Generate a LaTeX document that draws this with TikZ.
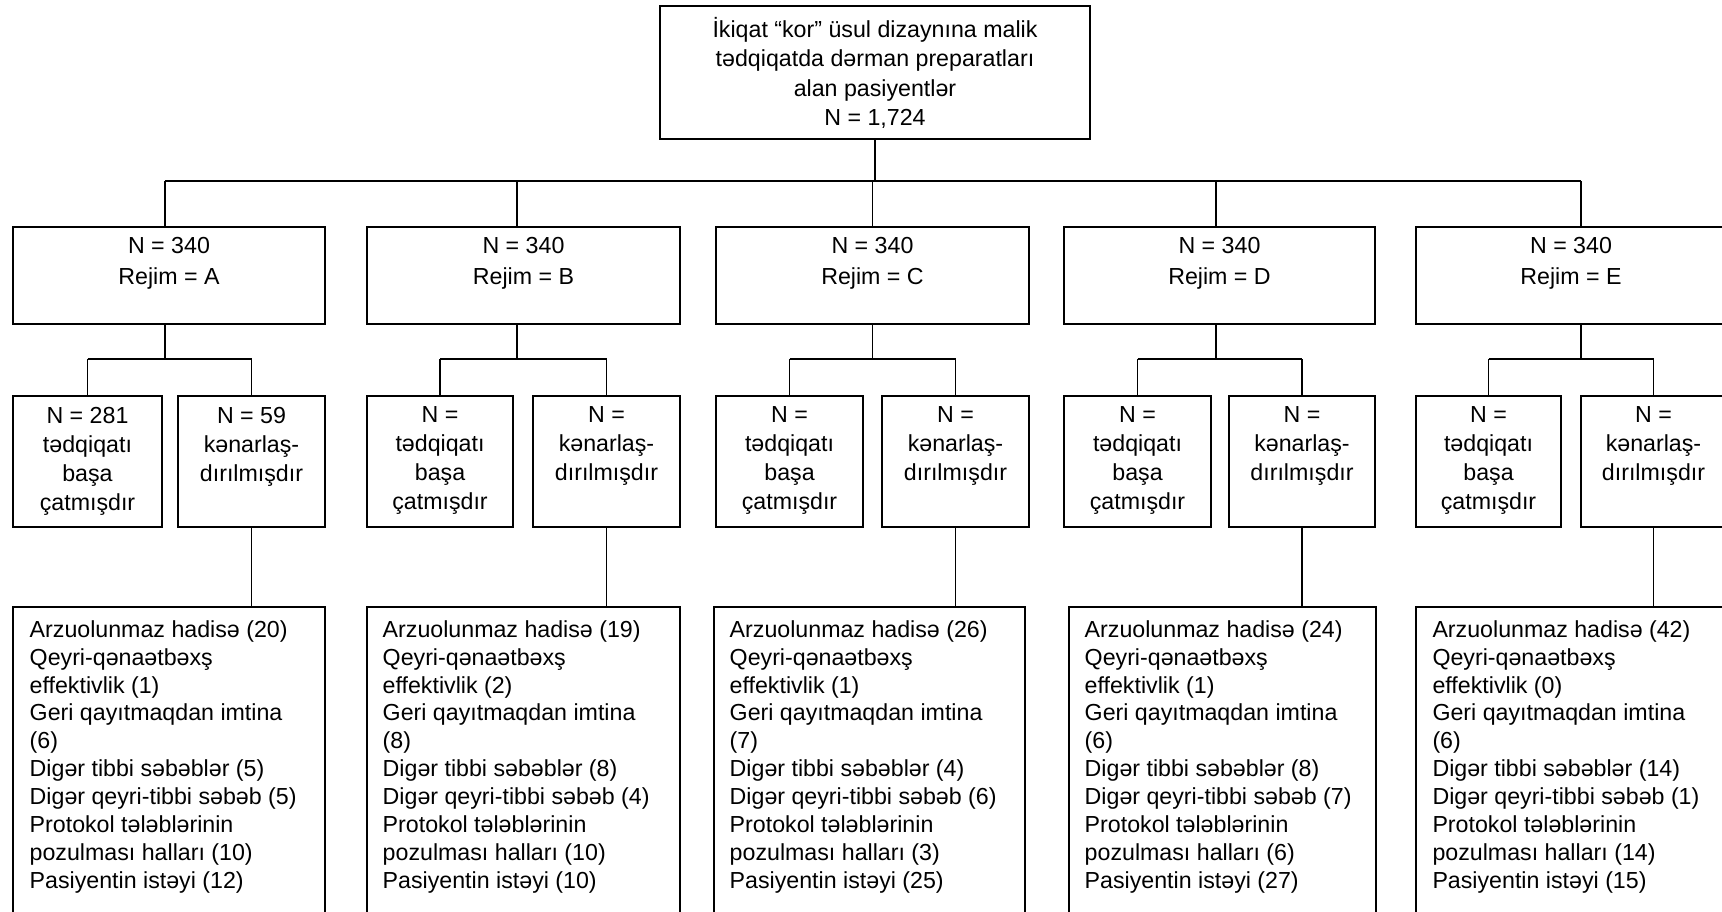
\documentclass[tikz,border=0pt]{standalone}
\usepackage{fontspec}
\setmainfont{Liberation Sans}
\usetikzlibrary{fit}
\begin{document}
\begin{tikzpicture}[x=0.5pt,y=-0.5pt,
  box/.style={draw, line width=0.9pt, inner sep=0pt, fit={#1}},
  conn/.style={line width=0.9pt},
  ttxt/.style={inner sep=0pt, align=center, anchor=north, font=\fontsize{11.6}{14.65}\selectfont},
  rtxt/.style={inner sep=0pt, align=center, anchor=north, font=\fontsize{11.6}{15.4}\selectfont},
  stxt/.style={inner sep=0pt, align=center, anchor=north, font=\fontsize{11.6}{14.5}\selectfont},
  ltxt/.style={inner sep=0pt, align=left, anchor=north west, font=\fontsize{11.6}{13.97}\selectfont}]
\clip (0,0) rectangle (1722,911);
\fill[white] (0,0) rectangle (1722,911);
% top box
\node[box={(660,6)(1090,139)}] (T) {};
\node[ttxt] (Tt) at ([yshift=-6pt]T.north) {İkiqat “kor” üsul dizaynına malik\\tədqiqatda dərman preparatları\\alan pasiyentlər\\N = 1,724};
% regimen boxes
\node[box={(13,227)(325,324)}] (A) {};
\node[box={(367,227)(680,324)}] (B) {};
\node[box={(716,227)(1029,324)}] (C) {};
\node[box={(1064,227)(1375,324)}] (D) {};
\node[box={(1416,227)(1726,324)}] (E) {};
\foreach \n in {A,B,C,D,E}
  \node[rtxt] (\n t) at ([yshift=-5.25pt]\n.north) {N = 340\\Rejim = \n};
% sub boxes
\node[box={(13,396)(162,527)}] (A1) {};
\node[box={(178,396)(325,527)}] (A2) {};
\node[box={(367,396)(513,527)}] (B1) {};
\node[box={(533,396)(680,527)}] (B2) {};
\node[box={(716,396)(863,527)}] (C1) {};
\node[box={(882,396)(1029,527)}] (C2) {};
\node[box={(1064,396)(1211,527)}] (D1) {};
\node[box={(1229,396)(1375,527)}] (D2) {};
\node[box={(1416,396)(1561,527)}] (E1) {};
\node[box={(1581,396)(1726,527)}] (E2) {};
\node[stxt] (A1t) at ([yshift=-5.75pt]A1.north) {N = 281\\tədqiqatı\\başa\\çatmışdır};
\node[stxt] (A2t) at ([yshift=-5.75pt]A2.north) {N = 59\\kənarlaş-\\dırılmışdır};
\foreach \n in {B,C,D,E}{
  \node[stxt] (\n 1t) at ([yshift=-5.75pt]\n 1.north) {N =\\tədqiqatı\\başa\\çatmışdır};
  \node[stxt] (\n 2t) at ([yshift=-5.75pt]\n 2.north) {N =\\kənarlaş-\\dırılmışdır};
}
% reason boxes
\node[box={(13,607)(325,1000)}] (RA) {};
\node[box={(367,607)(680,1000)}] (RB) {};
\node[box={(714,607)(1025,1000)}] (RC) {};
\node[box={(1069,607)(1376,1000)}] (RD) {};
\node[box={(1416,607)(1726,1000)}] (RE) {};
\node[ltxt] (RAt) at ([xshift=8.6pt,yshift=-6.9pt]RA.north west) {Arzuolunmaz hadisə (20)\\Qeyri-qənaətbəxş\\effektivlik (1)\\Geri qayıtmaqdan imtina\\(6)\\Digər tibbi səbəblər (5)\\Digər qeyri-tibbi səbəb (5)\\Protokol tələblərinin\\pozulması halları (10)\\Pasiyentin istəyi (12)};
\node[ltxt] (RBt) at ([xshift=8.1pt,yshift=-6.9pt]RB.north west) {Arzuolunmaz hadisə (19)\\Qeyri-qənaətbəxş\\effektivlik (2)\\Geri qayıtmaqdan imtina\\(8)\\Digər tibbi səbəblər (8)\\Digər qeyri-tibbi səbəb (4)\\Protokol tələblərinin\\pozulması halları (10)\\Pasiyentin istəyi (10)};
\node[ltxt] (RCt) at ([xshift=8.1pt,yshift=-6.9pt]RC.north west) {Arzuolunmaz hadisə (26)\\Qeyri-qənaətbəxş\\effektivlik (1)\\Geri qayıtmaqdan imtina\\(7)\\Digər tibbi səbəblər (4)\\Digər qeyri-tibbi səbəb (6)\\Protokol tələblərinin\\pozulması halları (3)\\Pasiyentin istəyi (25)};
\node[ltxt] (RDt) at ([xshift=8.1pt,yshift=-6.9pt]RD.north west) {Arzuolunmaz hadisə (24)\\Qeyri-qənaətbəxş\\effektivlik (1)\\Geri qayıtmaqdan imtina\\(6)\\Digər tibbi səbəblər (8)\\Digər qeyri-tibbi səbəb (7)\\Protokol tələblərinin\\pozulması halları (6)\\Pasiyentin istəyi (27)};
\node[ltxt] (REt) at ([xshift=8.5pt,yshift=-6.9pt]RE.north west) {Arzuolunmaz hadisə (42)\\Qeyri-qənaətbəxş\\effektivlik (0)\\Geri qayıtmaqdan imtina\\(6)\\Digər tibbi səbəblər (14)\\Digər qeyri-tibbi səbəb (1)\\Protokol tələblərinin\\pozulması halları (14)\\Pasiyentin istəyi (15)};
% connectors
\coordinate (bar) at (0,181);
\coordinate (sbar) at (0,359);
\draw[conn] (T.south) -- (T.south |- bar);
\draw[conn] ([xshift=-2pt]A.north |- bar) -- ([xshift=5pt]E.north |- bar);
\foreach \n/\o in {A/-2,B/-3.25,C/0,D/-1.75,E/5}{
  \draw[conn] ([xshift=\o pt]\n.north) -- ([xshift=\o pt]\n.north |- bar);
  \draw[conn] ([xshift=\o pt]\n.south) -- ([xshift=\o pt]\n.south |- sbar);
  \draw[conn] (\n 1.north |- sbar) -- (\n 2.north |- sbar);
  \draw[conn] (\n 1.north) -- (\n 1.north |- sbar);
  \draw[conn] (\n 2.north) -- (\n 2.north |- sbar);
  \draw[conn] (\n 2.south) -- (R\n.north -| \n 2.south);
}
\end{tikzpicture}
\end{document}
